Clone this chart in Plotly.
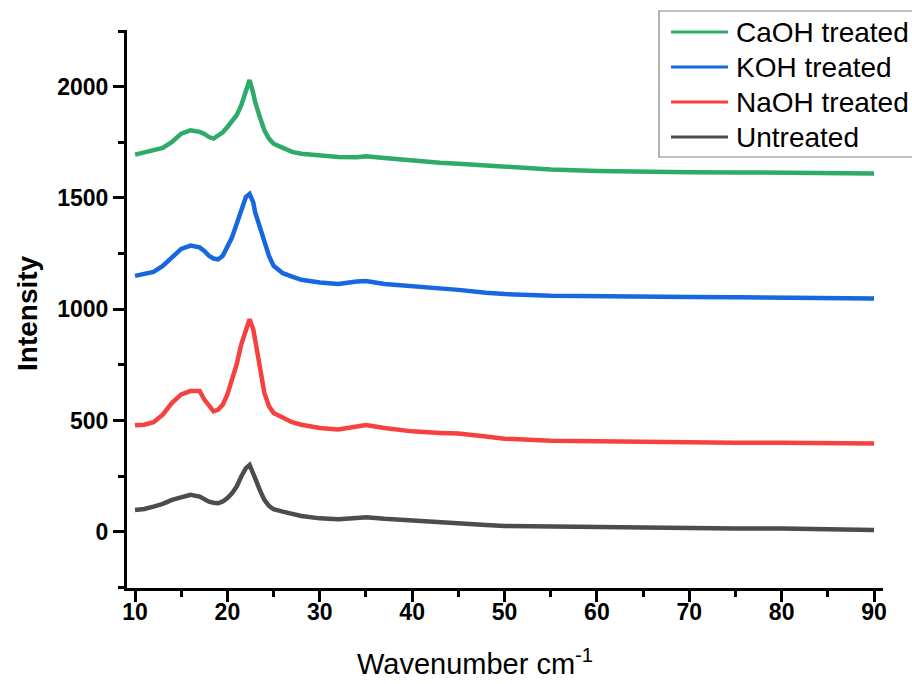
import plotly.graph_objects as go

# ---- data ----
wavenumber = [10, 11, 12, 13, 14, 15, 16, 17, 17.5, 18, 18.5, 19, 19.5, 20, 20.5, 21, 21.5, 22, 22.4,
              22.8, 23, 23.5, 24, 24.5, 25, 26, 27, 28, 30, 32, 34, 35, 37, 40, 43, 45, 48, 50, 55,
              60, 65, 70, 75, 80, 85, 90]

caoh = [1695, 1705, 1714, 1725, 1752, 1789, 1804, 1797, 1788, 1774, 1767, 1779, 1795, 1819, 1843,
        1872, 1917, 1985, 2030, 1970, 1932, 1865, 1804, 1767, 1744, 1725, 1707, 1699, 1691, 1684,
        1683, 1688, 1680, 1667, 1658, 1654, 1646, 1639, 1628, 1621, 1617, 1616, 1615, 1613, 1612, 1610]

koh = [1150, 1158, 1168, 1195, 1233, 1271, 1286, 1278, 1262, 1240, 1228, 1224, 1240, 1286, 1323,
       1383, 1451, 1504, 1518, 1480, 1436, 1368, 1301, 1240, 1195, 1162, 1147, 1132, 1120, 1113,
       1125, 1127, 1113, 1104, 1095, 1087, 1074, 1068, 1060, 1057, 1056, 1055, 1054, 1053, 1051, 1048]

naoh = [478, 481, 492, 526, 579, 617, 632, 632, 594, 564, 541, 549, 571, 617, 677,
        752, 842, 910, 955, 910, 857, 744, 624, 564, 534, 511, 492, 481, 466, 459,
        471, 480, 466, 451, 444, 441, 428, 418, 409, 406, 403, 401, 400, 400, 398, 396]

untreated = [98, 102, 113, 125, 143, 155, 166, 158, 146, 135, 130, 128, 136, 151, 173,
             203, 248, 286, 300, 265, 241, 188, 143, 116, 101, 90, 80, 71, 60, 56,
             62, 65, 58, 49, 41, 38, 30, 26, 23, 18, 16, 15, 14, 14, 12, 8]

series_names = ["CaOH treated", "KOH treated", "NaOH treated", "Untreated"]
series_values = [caoh, koh, naoh, untreated]
series_colors = ["#2EAB68", "#1767E0", "#F5413F", "#4C4C4C"]

x_ticks = [10, 20, 30, 40, 50, 60, 70, 80, 90]
y_ticks = [0, 500, 1000, 1500, 2000]

# ---- figure ----
W, H = 912, 684
L, R, T, B = 127, 29, 30, 96
PW, PH = W - L - R, H - T - B

def px(xp):
    return (xp - L) / PW

def py(yp):
    return (H - B - yp) / PH

FONT = "Arial, Liberation Sans, sans-serif"

fig = go.Figure()
# draw in reverse so green is on top like the legend order
for name, vals, col in zip(series_names[::-1], series_values[::-1], series_colors[::-1]):
    fig.add_trace(go.Scatter(x=wavenumber, y=vals, mode="lines", name=name,
                             line=dict(color=col, width=4.5), showlegend=False, hoverinfo="skip"))

axis_common = dict(showgrid=False, zeroline=False, showline=True, linecolor="black", linewidth=3,
                   ticks="outside", ticklen=11, tickwidth=3, tickcolor="black",
                   tickfont=dict(family=FONT, size=23, color="black", weight="bold"),
                   mirror=False)

fig.update_layout(
    width=W, height=H,
    margin=dict(l=L, r=R, t=T, b=B),
    paper_bgcolor="white", plot_bgcolor="white",
    showlegend=False,
    xaxis=dict(range=[9.13, 90.97], tickvals=x_ticks, ticklabelstandoff=-10,
               minor=dict(dtick=5, tick0=0, ticks="outside", ticklen=6, tickwidth=3, tickcolor="black"),
               **axis_common),
    yaxis=dict(range=[-253, 2255], tickvals=y_ticks,
               minor=dict(dtick=250, tick0=0, ticks="outside", ticklen=6, tickwidth=3, tickcolor="black"),
               **axis_common),
)

# axis titles
fig.add_annotation(text="Wavenumber cm<sup>-1</sup>", xref="paper", yref="paper",
                   x=px(355), y=py(662), xanchor="left", yanchor="middle", showarrow=False,
                   font=dict(family=FONT, size=29, color="black"))
fig.add_annotation(text="<b>Intensity</b>", xref="paper", yref="paper",
                   x=px(27), y=py(313), xanchor="center", yanchor="middle", showarrow=False,
                   textangle=-90, font=dict(family=FONT, size=28, color="black"))

# legend box (manual, clipped at right edge like the reference)
fig.add_shape(type="rect", xref="paper", yref="paper", x0=px(659), x1=px(940), y0=py(157), y1=py(11),
              line=dict(color="#808080", width=1.2), fillcolor="rgba(255,255,255,0)", layer="above")
rows = [32, 67, 102, 137]
for name, col, ry in zip(series_names, series_colors, rows):
    fig.add_shape(type="line", xref="paper", yref="paper", x0=px(671), x1=px(728), y0=py(ry), y1=py(ry),
                  line=dict(color=col, width=3))
    fig.add_annotation(text=name, xref="paper", yref="paper", x=px(734), y=py(ry),
                       xanchor="left", yanchor="middle", showarrow=False,
                       font=dict(family=FONT, size=28, color="black"))

fig.write_html("out.html", config={"displayModeBar": False},
               post_script="document.body.style.margin='0';document.body.style.overflow='hidden';")
